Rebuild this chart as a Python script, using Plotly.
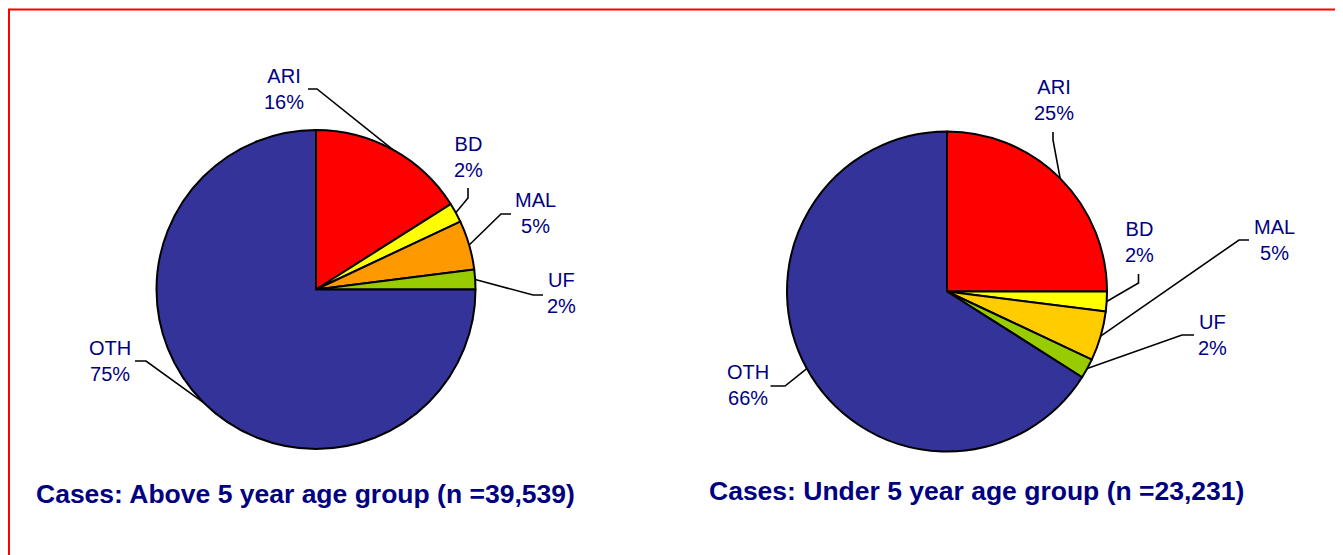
import math
import plotly.graph_objects as go

# ---------------- data ----------------
categories = ["ARI", "BD", "MAL", "UF", "OTH"]
above5_pct = [16, 2, 5, 2, 75]
under5_pct = [25, 2, 5, 2, 66]
above5_title = "Cases: Above 5 year age group (n =39,539)"
under5_title = "Cases: Under 5 year age group (n =23,231)"

# ---------------- styles / layout ----------------
OFF = 8  # page body margin of the html page
W, H = 1343 - OFF, 555 - OFF
colors_above = ["#FF0000", "#FFFF00", "#FF9900", "#99CC00", "#333399"]
colors_under = ["#FF0000", "#FFFF00", "#FFCC00", "#99CC00", "#333399"]
TEXT_COLOR = "#000080"
FONT = "Liberation Sans, Arial, sans-serif"

# pie geometry in screen pixels (center x, center y, radius)
geo_above = (316, 289.5, 159.5)
geo_under = (947, 291.5, 160)

# label placement in screen pixels: text center, leader-line start, elbow
lab_above = {
    "ARI": ((284, 88.5), (308, 89), (317, 89)),
    "BD": ((468.5, 157), (468, 188), (468, 198)),
    "MAL": ((535, 213), (511, 214), (501, 214)),
    "UF": ((561.5, 293), (543, 295), (533, 295)),
    "OTH": ((110, 361), (135, 361), (146, 361)),
}
lab_under = {
    "ARI": ((1054, 100), (1053, 132), (1053, 140)),
    "BD": ((1139, 242), (1138.5, 274), (1138.5, 283)),
    "MAL": ((1274, 240), (1249, 240), (1239, 240)),
    "UF": ((1212, 335), (1194, 335), (1182, 335)),
    "OTH": ((748, 385), (770.5, 386), (785, 386)),
}
title_above_pos = (305, 494)
title_under_pos = (976, 491)


def px(x):
    return (x - OFF) / W


def py(y):
    return 1 - (y - OFF) / H


def pie_domain(geo):
    cx, cy, r = geo
    return dict(x=[px(cx - r), px(cx + r)], y=[py(cy + r), py(cy - r)])


fig = go.Figure()
annotations = []
shapes = []


def add_pie(values, colors, geo, labs, title, tpos):
    fig.add_trace(go.Pie(
        labels=categories, values=values, sort=False, direction="clockwise",
        rotation=0, textinfo="none", hoverinfo="label+percent",
        marker=dict(colors=colors, line=dict(color="black", width=2)),
        domain=pie_domain(geo), showlegend=False,
    ))
    cx, cy, r = geo
    total = sum(values)
    cum = 0
    for cat, v in zip(categories, values):
        mid = (cum + v / 2) / total * 2 * math.pi
        cum += v
        ex, ey = cx + r * math.sin(mid), cy - r * math.cos(mid)
        (tx, ty), (ax, ay), (bx, by) = labs[cat]
        annotations.append(dict(
            x=px(tx), y=py(ty), xref="paper", yref="paper",
            xanchor="center", yanchor="middle", showarrow=False,
            text=f"{cat}<br>{round(v / total * 100)}%",
            font=dict(family=FONT, size=20, color=TEXT_COLOR),
        ))
        shapes.append(dict(
            type="path", xref="paper", yref="paper",
            path=f"M {px(ax)} {py(ay)} L {px(bx)} {py(by)} L {px(ex)} {py(ey)}",
            line=dict(color="black", width=1.6),
        ))
    annotations.append(dict(
        x=px(tpos[0]), y=py(tpos[1]), xref="paper", yref="paper",
        xanchor="center", yanchor="middle", showarrow=False,
        text=f"<b>{title}</b>",
        font=dict(family=FONT, size=26.5, color=TEXT_COLOR),
    ))


add_pie(above5_pct, colors_above, geo_above, lab_above, above5_title, title_above_pos)
add_pie(under5_pct, colors_under, geo_under, lab_under, under5_title, title_under_pos)

# red frame
shapes.append(dict(
    type="rect", xref="paper", yref="paper",
    x0=px(9), y0=py(9.5), x1=1.05, y1=-0.1,
    line=dict(color="#FF0000", width=2), fillcolor="rgba(0,0,0,0)",
))

fig.update_layout(
    width=W, height=H, margin=dict(l=0, r=0, t=0, b=0),
    paper_bgcolor="white", plot_bgcolor="white",
    annotations=annotations, shapes=shapes, showlegend=False,
)

fig.write_html("out.html")
